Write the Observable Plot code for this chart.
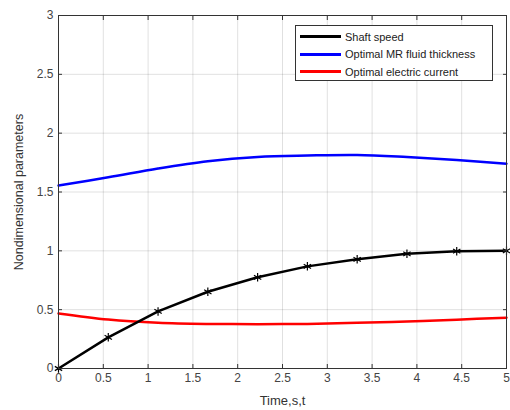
<!DOCTYPE html>
<html><head><meta charset="utf-8">
<script src="https://cdn.jsdelivr.net/npm/d3@7"></script>
<script src="https://cdn.jsdelivr.net/npm/@observablehq/plot@0.6"></script>
<style>
body{margin:0;background:#fff;font-family:"Liberation Sans",Arial,sans-serif}
#legend{position:absolute;left:295px;top:25px;width:198px;height:56px;border:1px solid #333;background:#fff;box-sizing:border-box;font-size:11px;color:#222}
#legend .row{position:absolute;left:4px;height:17px;display:flex;align-items:center}
#legend .sw{width:41px;height:3px;margin-right:4px}
</style>
</head><body>
<div id="chart" style="position:relative;width:510px;height:410px"></div>
<script>
const time = [0, 0.5556, 1.1111, 1.6667, 2.2222, 2.7778, 3.3333, 3.8889, 4.4444, 5];
const shaftSpeed = [0, 0.265, 0.485, 0.652, 0.775, 0.868, 0.928, 0.975, 0.997, 1.0];
const mrThickness = [1.555, 1.625, 1.70, 1.762, 1.798, 1.81, 1.815, 1.797, 1.772, 1.74];
const electricCurrent = [0.468, 0.416, 0.389, 0.379, 0.377, 0.379, 0.388, 0.400, 0.415, 0.432];
const seriesNames = ["Shaft speed", "Optimal MR fluid thickness", "Optimal electric current"];
const seriesColors = ["#000000", "#0000ff", "#ff0000"];
const xTicks = [0, 0.5, 1, 1.5, 2, 2.5, 3, 3.5, 4, 4.5, 5];
const yTicks = [0, 0.5, 1, 1.5, 2, 2.5, 3];

const rows = time.map((t, i) => ({t, s: shaftSpeed[i], m: mrThickness[i], c: electricCurrent[i]}));
const fmt = d => String(d);
const blank = () => "";

const plot = Plot.plot({
  width: 510, height: 410,
  marginLeft: 58, marginRight: 4, marginTop: 15, marginBottom: 42,
  style: {fontFamily: "Liberation Sans, Arial, sans-serif", fontSize: "12px", color: "#333", background: "#fff"},
  x: {domain: [0, 5]},
  y: {domain: [0, 3]},
  marks: [
    Plot.gridX(xTicks, {stroke: "#000", strokeOpacity: 0.12}),
    Plot.gridY(yTicks, {stroke: "#000", strokeOpacity: 0.12}),
    Plot.line(rows, {x: "t", y: "m", stroke: seriesColors[1], strokeWidth: 2.5, curve: "catmull-rom"}),
    Plot.line(rows, {x: "t", y: "c", stroke: seriesColors[2], strokeWidth: 2.5, curve: "catmull-rom"}),
    Plot.line(rows, {x: "t", y: "s", stroke: seriesColors[0], strokeWidth: 2.5}),
    Plot.dot(rows, {x: "t", y: "s", symbol: "asterisk", r: 4, stroke: "#000", strokeWidth: 1.2}),
    Plot.frame({stroke: "#333", strokeWidth: 1}),
    Plot.axisX(xTicks, {anchor: "bottom", tickSize: -4, tickFormat: blank, label: null, stroke: "#333"}),
    Plot.axisX(xTicks, {anchor: "top", tickSize: -4, tickFormat: blank, label: null, stroke: "#333"}),
    Plot.axisY(yTicks, {anchor: "left", tickSize: -4, tickFormat: blank, label: null, stroke: "#333"}),
    Plot.axisY(yTicks, {anchor: "right", tickSize: -4, tickFormat: blank, label: null, stroke: "#333"}),
    Plot.axisX(xTicks, {anchor: "bottom", tickSize: 0, tickPadding: 5, tickFormat: fmt, fill: "#444", fontSize: 12, label: null}),
    Plot.axisY(yTicks, {anchor: "left", tickSize: 0, tickPadding: 5, tickFormat: fmt, fill: "#444", fontSize: 12, label: null}),
    Plot.axisX(xTicks, {anchor: "bottom", tickSize: 0, tickFormat: blank, fill: "#333", fontSize: 13,
      label: "Time,s,t", labelAnchor: "center", labelArrow: "none", labelOffset: 36}),
    Plot.axisY(yTicks, {anchor: "left", tickSize: 0, tickFormat: blank, fill: "#333", fontSize: 12.5,
      label: "Nondimensional parameters", labelAnchor: "center", labelArrow: "none", labelOffset: 44})
  ]
});
document.getElementById("chart").appendChild(plot);

const legend = document.createElement("div");
legend.id = "legend";
seriesNames.forEach((name, i) => {
  const row = document.createElement("div");
  row.className = "row";
  row.style.top = (2 + i * 17.5) + "px";
  row.innerHTML = `<div class="sw" style="background:${seriesColors[i]}"></div><span>${name}</span>`;
  legend.appendChild(row);
});
document.getElementById("chart").appendChild(legend);
</script>
</body></html>
